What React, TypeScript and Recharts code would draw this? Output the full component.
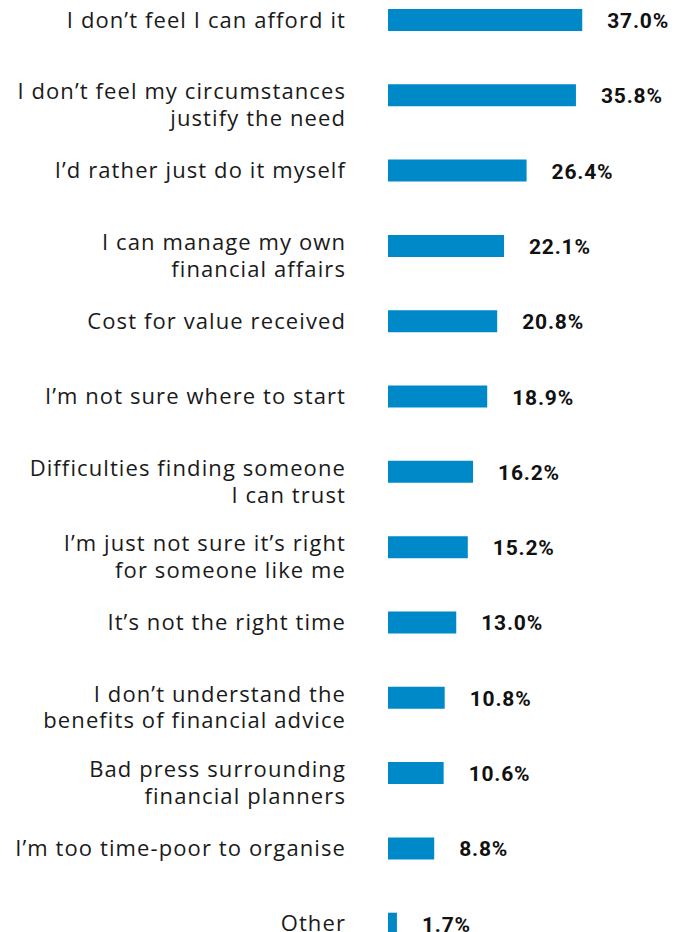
import { Bar, BarChart, LabelList, XAxis, YAxis } from "recharts";

const categories = [
  "I don’t feel I can afford it",
  "I don’t feel my circumstances|justify the need",
  "I’d rather just do it myself",
  "I can manage my own|financial affairs",
  "Cost for value received",
  "I’m not sure where to start",
  "Difficulties finding someone|I can trust",
  "I’m just not sure it’s right|for someone like me",
  "It’s not the right time",
  "I don’t understand the|benefits of financial advice",
  "Bad press surrounding|financial planners",
  "I’m too time-poor to organise",
  "Other",
];

const values = [37.0, 35.8, 26.4, 22.1, 20.8, 18.9, 16.2, 15.2, 13.0, 10.8, 10.6, 8.8, 1.7];

const data = categories.map((name, i) => ({ name, value: values[i] }));

const CategoryTick = ({ x, y, payload }: any) => {
  const lines: string[] = String(payload.value).split("|");
  return (
    <text
      x={x}
      y={y}
      textAnchor="end"
      fill="#1a1a1a"
      fontFamily="'Open Sans', sans-serif"
      fontSize={22}
      letterSpacing={1.1}
    >
      {lines.map((line, i) => (
        <tspan key={i} x={x} dy={i === 0 ? (lines.length > 1 ? 4.5 : 8) : 26.5}>
          {line}
        </tspan>
      ))}
    </text>
  );
};

const ValueLabel = ({ x, y, width, height, value }: any) => (
  <text
    x={x + width + 25}
    y={y + height / 2}
    dy={8}
    fill="#111"
    fontFamily="Roboto, sans-serif"
    fontWeight={700}
    fontSize={21}
    letterSpacing={0.8}
  >
    {Number(value).toFixed(1)}%
  </text>
);

const App = () => {
  return (
    <div style={{ position: "absolute", left: 0, top: -18 }}>
      <BarChart
        width={687}
        height={979}
        data={data}
        layout="vertical"
        margin={{ top: 0, right: 89, left: 0, bottom: 0 }}
      >
        <XAxis type="number" domain={[0, 40]} hide />
        <YAxis
          type="category"
          dataKey="name"
          width={388}
          axisLine={false}
          tickLine={false}
          tickMargin={36}
          tick={<CategoryTick />}
          interval={0}
        />
        <Bar dataKey="value" fill="#0089C9" barSize={22} isAnimationActive={false}>
          <LabelList dataKey="value" content={<ValueLabel />} />
        </Bar>
      </BarChart>
    </div>
  );
};

export default App;
